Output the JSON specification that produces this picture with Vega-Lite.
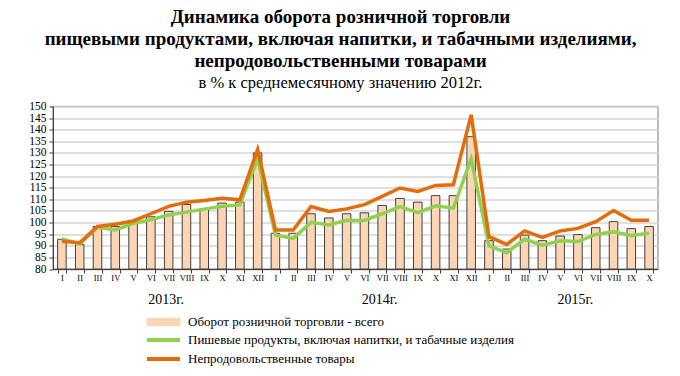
{
  "$schema": "https://vega.github.io/schema/vega-lite/v6.json",
  "autosize": "none",
  "width": 605,
  "height": 162.5,
  "padding": {"left": 53, "top": 106.5, "right": 22, "bottom": 107.5},
  "background": "white",
  "config": {
    "font": "Liberation Serif",
    "view": {"stroke": "#a6a6a6", "strokeWidth": 1.5}
  },
  "title": {
    "text": ["Динамика оборота розничной торговли", "пищевыми продуктами, включая напитки, и табачными изделиями,", "непродовольственными товарами"],
    "subtitle": "в % к среднемесячному значению 2012г.",
    "font": "Liberation Serif",
    "fontSize": 19,
    "fontWeight": "bold",
    "lineHeight": 22,
    "color": "black",
    "subtitleFont": "Liberation Serif",
    "subtitleFontSize": 16.5,
    "subtitleColor": "black",
    "subtitlePadding": 4,
    "anchor": "middle",
    "dx": -15,
    "offset": 9
  },
  "datasets": {
    "months": [
      {"period": "2013 I", "total": 92.8, "food": 93, "nonfood": 92},
      {"period": "2013 II", "total": 90.5, "food": 90.8, "nonfood": 91.3},
      {"period": "2013 III", "total": 98.3, "food": 98, "nonfood": 98.3},
      {"period": "2013 IV", "total": 98.3, "food": 96.8, "nonfood": 99.3},
      {"period": "2013 V", "total": 100, "food": 99.7, "nonfood": 100.7},
      {"period": "2013 VI", "total": 102.5, "food": 101.2, "nonfood": 103.8},
      {"period": "2013 VII", "total": 104.8, "food": 103.3, "nonfood": 107},
      {"period": "2013 VIII", "total": 107.8, "food": 104.5, "nonfood": 108.8},
      {"period": "2013 IX", "total": 106, "food": 105.8, "nonfood": 109.5},
      {"period": "2013 X", "total": 108.4, "food": 107, "nonfood": 110.5},
      {"period": "2013 XI", "total": 108.8, "food": 107.6, "nonfood": 109.8},
      {"period": "2013 XII", "total": 130, "food": 127.5, "nonfood": 131.5},
      {"period": "2014 I", "total": 95.4, "food": 94.6, "nonfood": 96.8},
      {"period": "2014 II", "total": 95.4, "food": 93.2, "nonfood": 96.8},
      {"period": "2014 III", "total": 103.8, "food": 100.1, "nonfood": 106.9},
      {"period": "2014 IV", "total": 102, "food": 99, "nonfood": 104.8},
      {"period": "2014 V", "total": 103.8, "food": 101, "nonfood": 105.9},
      {"period": "2014 VI", "total": 104.2, "food": 100.9, "nonfood": 107.7},
      {"period": "2014 VII", "total": 107.4, "food": 103.8, "nonfood": 111.3},
      {"period": "2014 VIII", "total": 110.4, "food": 106.9, "nonfood": 114.9},
      {"period": "2014 IX", "total": 108.8, "food": 104.3, "nonfood": 113.4},
      {"period": "2014 X", "total": 111.6, "food": 107.2, "nonfood": 116},
      {"period": "2014 XI", "total": 111.6, "food": 106.2, "nonfood": 116.3},
      {"period": "2014 XII", "total": 137, "food": 127.5, "nonfood": 146.4},
      {"period": "2015 I", "total": 92.2, "food": 90, "nonfood": 93.9},
      {"period": "2015 II", "total": 88.6, "food": 87, "nonfood": 90.6},
      {"period": "2015 III", "total": 94.6, "food": 92.8, "nonfood": 96.4},
      {"period": "2015 IV", "total": 92.2, "food": 90.3, "nonfood": 93.6},
      {"period": "2015 V", "total": 94.2, "food": 92.2, "nonfood": 96.4},
      {"period": "2015 VI", "total": 94.8, "food": 91.8, "nonfood": 97.5},
      {"period": "2015 VII", "total": 97.8, "food": 94.9, "nonfood": 100.4},
      {"period": "2015 VIII", "total": 100.4, "food": 96, "nonfood": 105.2},
      {"period": "2015 IX", "total": 97.4, "food": 94.4, "nonfood": 101},
      {"period": "2015 X", "total": 98.3, "food": 95.4, "nonfood": 101}
    ],
    "years": [
      {"period": "2013 VII", "label": "2013г."},
      {"period": "2014 VII", "label": "2014г."},
      {"period": "2015 VI", "label": "2015г."}
    ]
  },
  "layer": [
    {
      "encoding": {
        "x": {
          "field": "period", "type": "nominal",
          "scale": {"paddingInner": 0.52, "paddingOuter": 0.26, "domain": ["2013 I","2013 II","2013 III","2013 IV","2013 V","2013 VI","2013 VII","2013 VIII","2013 IX","2013 X","2013 XI","2013 XII","2014 I","2014 II","2014 III","2014 IV","2014 V","2014 VI","2014 VII","2014 VIII","2014 IX","2014 X","2014 XI","2014 XII","2015 I","2015 II","2015 III","2015 IV","2015 V","2015 VI","2015 VII","2015 VIII","2015 IX","2015 X"]},
          "axis": {
            "title": null,
            "labelExpr": "split(datum.value, ' ')[1]",
            "labelAngle": 0,
            "labelFont": "Liberation Serif",
            "labelFontSize": 8.5,
            "labelColor": "black",
            "labelPadding": 0,
            "labelOverlap": false,
            "tickBand": "extent",
            "tickSize": 4,
            "tickColor": "#404040",
            "domainColor": "#404040",
            "domainWidth": 1,
            "grid": false
          }
        },
        "y": {
          "field": "value", "type": "quantitative",
          "scale": {"domain": [80, 150], "nice": false, "zero": false},
          "axis": {
            "title": null,
            "values": [80,85,90,95,100,105,110,115,120,125,130,135,140,145,150],
            "labelFont": "Liberation Serif",
            "labelFontSize": 11.5,
            "labelColor": "black",
            "labelPadding": 3,
            "labelOverlap": false,
            "labelFlush": false,
            "tickSize": 4,
            "tickColor": "#404040",
            "domainColor": "#404040",
            "gridColor": "#d4d4d4",
            "gridWidth": 1.5
          }
        },
        "color": {
          "field": "series", "type": "nominal",
          "scale": {"domain": ["total", "food", "nonfood"], "range": ["#fcd5b5", "#92d050", "#e46c0a"]},
          "legend": {
            "title": null,
            "orient": "none",
            "legendX": 104,
            "legendY": 209,
            "direction": "vertical",
            "padding": 0,
            "rowPadding": 2,
            "symbolSize": 1090,
            "labelFont": "Liberation Serif",
            "labelFontSize": 13,
            "labelColor": "black",
            "labelLimit": 500,
            "labelOffset": 18,
            "labelExpr": "datum.value === 'total' ? 'Оборот розничной торговли - всего' : datum.value === 'food' ? 'Пишевые продукты, включая напитки, и табачные изделия' : 'Непродовольственные товары'",
            "encode": {
              "symbols": {
                "update": {
                  "shape": {"signal": "datum.value === 'total' ? 'M-1,-0.22H1V0.22H-1Z' : 'M-1,0H1'"},
                  "fill": {"signal": "datum.value === 'total' ? '#fcd5b5' : 'transparent'"},
                  "stroke": {"signal": "datum.value === 'total' ? '#404040' : datum.value === 'food' ? '#92d050' : '#e46c0a'"},
                  "strokeWidth": {"signal": "datum.value === 'total' ? 1 : 4"},
                  "opacity": {"value": 1}
                }
              }
            }
          }
        }
      },
      "layer": [
        {
          "data": {"name": "months"},
          "transform": [
            {"fold": ["total", "food", "nonfood"], "as": ["series", "value"]},
            {"filter": "datum.series === 'total'"}
          ],
          "mark": {"type": "bar", "stroke": "#404040", "strokeWidth": 1},
          "encoding": {
            "y2": {"datum": 80}
          }
        },
        {
          "data": {"name": "months"},
          "transform": [
            {"fold": ["total", "food", "nonfood"], "as": ["series", "value"]},
            {"filter": "datum.series === 'food'"}
          ],
          "mark": {"type": "line", "strokeWidth": 3.5}
        },
        {
          "data": {"name": "months"},
          "transform": [
            {"fold": ["total", "food", "nonfood"], "as": ["series", "value"]},
            {"filter": "datum.series === 'nonfood'"}
          ],
          "mark": {"type": "line", "strokeWidth": 3.5}
        }
      ]
    },
    {
      "data": {"name": "years"},
      "mark": {"type": "text", "font": "Liberation Serif", "fontSize": 14, "color": "black", "dy": 31, "baseline": "middle", "align": "center"},
      "encoding": {
        "x": {
          "field": "period", "type": "nominal", "bandPosition": 0.2,
          "scale": {"paddingInner": 0.52, "paddingOuter": 0.26, "domain": ["2013 I","2013 II","2013 III","2013 IV","2013 V","2013 VI","2013 VII","2013 VIII","2013 IX","2013 X","2013 XI","2013 XII","2014 I","2014 II","2014 III","2014 IV","2014 V","2014 VI","2014 VII","2014 VIII","2014 IX","2014 X","2014 XI","2014 XII","2015 I","2015 II","2015 III","2015 IV","2015 V","2015 VI","2015 VII","2015 VIII","2015 IX","2015 X"]},
          "axis": {
            "title": null,
            "labelExpr": "split(datum.value, ' ')[1]",
            "labelAngle": 0,
            "labelFont": "Liberation Serif",
            "labelFontSize": 8.5,
            "labelColor": "black",
            "labelPadding": 0,
            "labelOverlap": false,
            "tickBand": "extent",
            "tickSize": 4,
            "tickColor": "#404040",
            "domainColor": "#404040",
            "domainWidth": 1,
            "grid": false
          }
        },
        "y": {
          "datum": 80, "type": "quantitative",
          "scale": {"domain": [80, 150], "nice": false, "zero": false},
          "axis": {
            "title": null,
            "values": [80,85,90,95,100,105,110,115,120,125,130,135,140,145,150],
            "labelFont": "Liberation Serif",
            "labelFontSize": 11.5,
            "labelColor": "black",
            "labelPadding": 3,
            "labelOverlap": false,
            "labelFlush": false,
            "tickSize": 4,
            "tickColor": "#404040",
            "domainColor": "#404040",
            "gridColor": "#d4d4d4",
            "gridWidth": 1.5
          }
        },
        "text": {"field": "label"}
      }
    }
  ]
}
